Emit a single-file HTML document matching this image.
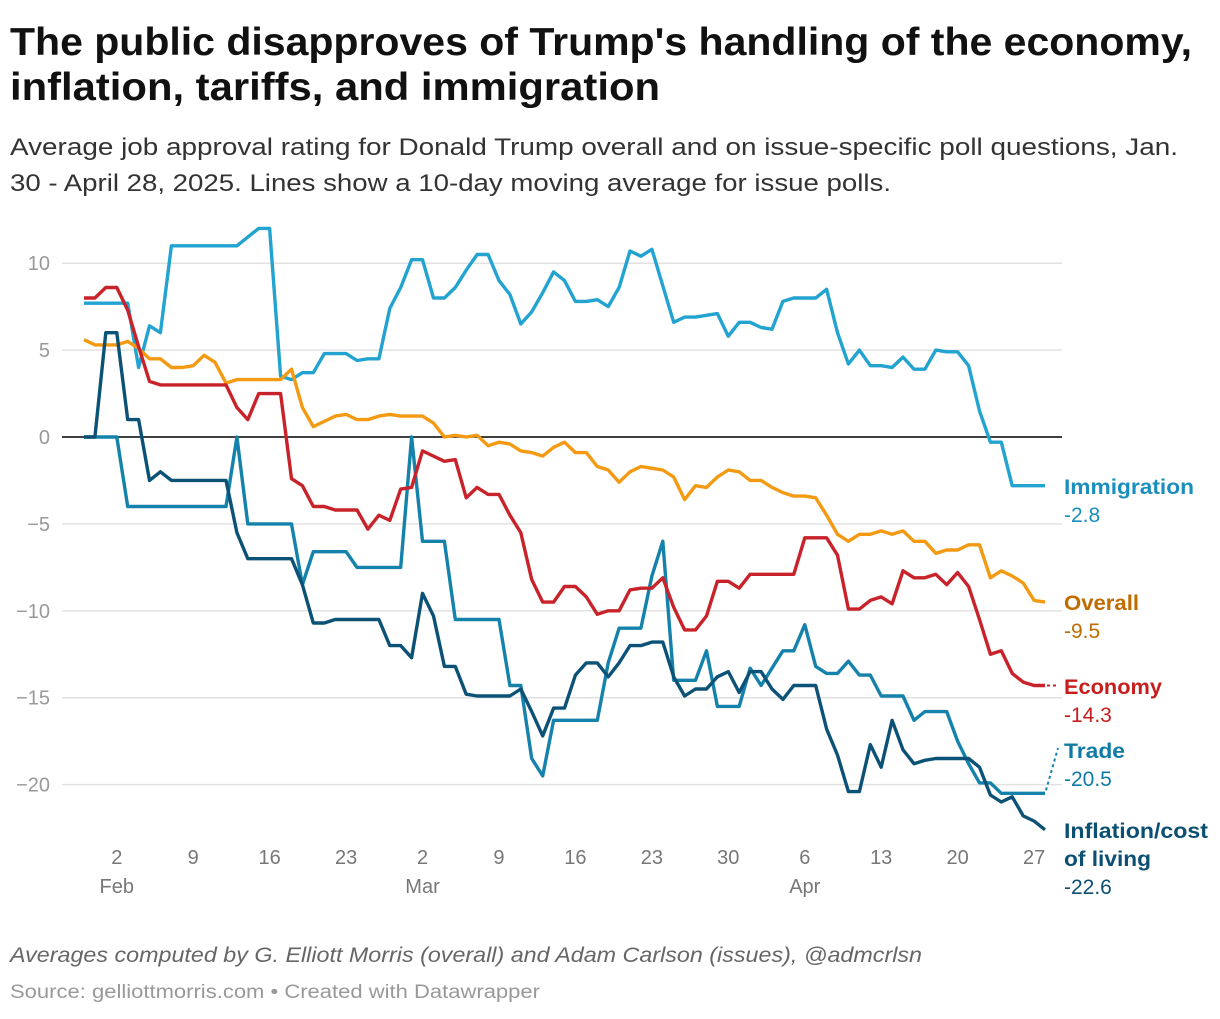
<!DOCTYPE html>
<html><head><meta charset="utf-8">
<style>
body{margin:0;background:#fff;width:1220px;height:1014px;overflow:hidden;font-family:"Liberation Sans",sans-serif;}
svg text{font-family:"Liberation Sans",sans-serif;}
</style></head>
<body>
<svg id="chart" width="1220" height="1014" xmlns="http://www.w3.org/2000/svg">
<text x="10" y="55" font-size="39" font-weight="bold" fill="#111" textLength="1182" lengthAdjust="spacingAndGlyphs">The public disapproves of Trump's handling of the economy,</text>
<text x="10" y="100" font-size="39" font-weight="bold" fill="#111" textLength="650" lengthAdjust="spacingAndGlyphs">inflation, tariffs, and immigration</text>
<text x="10" y="155" font-size="24" fill="#333" textLength="1168" lengthAdjust="spacingAndGlyphs">Average job approval rating for Donald Trump overall and on issue-specific poll questions, Jan.</text>
<text x="10" y="191" font-size="24" fill="#333" textLength="881" lengthAdjust="spacingAndGlyphs">30 - April 28, 2025. Lines show a 10-day moving average for issue polls.</text>
<g id="grid"></g>
<g id="yticks"></g>
<g id="xticks"></g>
<g id="lines"></g>
<g id="labels"></g>
<text x="10" y="962" font-size="21" font-style="italic" fill="#666" textLength="912" lengthAdjust="spacingAndGlyphs">Averages computed by G. Elliott Morris (overall) and Adam Carlson (issues), @admcrlsn</text>
<text x="10" y="998" font-size="19" fill="#999" textLength="530" lengthAdjust="spacingAndGlyphs">Source: gelliottmorris.com • Created with Datawrapper</text>
</svg>
<script>
const yTicks=[10,5,0,-5,-10,-15,-20];
const xTickDays=[3,10,17,24,31,38,45,52,59,66,73,80,87];
const xTickLabels=["2","9","16","23","2","9","16","23","30","6","13","20","27"];
const monthDays=[3,31,66];
const monthLabels=["Feb","Mar","Apr"];
const immigration=[7.7,7.7,7.7,7.7,7.7,4.0,6.4,6.0,11,11,
11,11,11,11,11,11.5,12,12,3.5,3.3,
3.7,3.7,4.8,4.8,4.8,4.4,4.5,4.5,7.4,8.6,
10.2,10.2,8.0,8.0,8.6,9.6,10.5,10.5,9.0,8.2,
6.5,7.2,8.3,9.5,9.0,7.8,7.8,7.9,7.5,8.6,
10.7,10.4,10.8,8.7,6.6,6.9,6.9,7.0,7.1,5.8,
6.6,6.6,6.3,6.2,7.8,8.0,8.0,8.0,8.5,6.0,
4.2,5.0,4.1,4.1,4.0,4.6,3.9,3.9,5.0,4.9,
4.9,4.1,1.5,-0.3,-0.3,-2.8,-2.8,-2.8,-2.8];
const overall=[5.6,5.3,5.3,5.3,5.5,5.1,4.5,4.5,4.0,4.0,
4.1,4.7,4.3,3.1,3.3,3.3,3.3,3.3,3.3,3.9,
1.7,0.6,0.9,1.2,1.3,1.0,1.0,1.2,1.3,1.2,
1.2,1.2,0.8,0.0,0.1,0.0,0.1,-0.5,-0.3,-0.4,
-0.8,-0.9,-1.1,-0.6,-0.3,-0.9,-0.9,-1.7,-1.9,-2.6,
-2.0,-1.7,-1.8,-1.9,-2.3,-3.6,-2.8,-2.9,-2.3,-1.9,
-2.0,-2.5,-2.5,-2.9,-3.2,-3.4,-3.4,-3.5,-4.5,-5.6,
-6.0,-5.6,-5.6,-5.4,-5.6,-5.4,-6.0,-6.0,-6.7,-6.5,
-6.5,-6.2,-6.2,-8.1,-7.7,-8.0,-8.4,-9.4,-9.5];
const economy=[8.0,8.0,8.6,8.6,7.3,5.2,3.2,3.0,3.0,3.0,
3.0,3.0,3.0,3.0,1.7,1.0,2.5,2.5,2.5,-2.4,
-2.8,-4.0,-4.0,-4.2,-4.2,-4.2,-5.3,-4.5,-4.8,-3.0,
-2.9,-0.8,-1.1,-1.4,-1.3,-3.5,-2.9,-3.3,-3.3,-4.5,
-5.5,-8.2,-9.5,-9.5,-8.6,-8.6,-9.2,-10.2,-10.0,-10.0,
-8.8,-8.7,-8.7,-8.1,-9.8,-11.1,-11.1,-10.3,-8.3,-8.3,
-8.7,-7.9,-7.9,-7.9,-7.9,-7.9,-5.8,-5.8,-5.8,-6.8,
-9.9,-9.9,-9.4,-9.2,-9.6,-7.7,-8.1,-8.1,-7.9,-8.5,
-7.8,-8.6,-10.5,-12.5,-12.3,-13.6,-14.1,-14.3,-14.3];
const trade=[0,0,0,0,-4,-4,-4,-4,-4,-4,
-4,-4,-4,-4,0,-5,-5,-5,-5,-5,
-8.5,-6.6,-6.6,-6.6,-6.6,-7.5,-7.5,-7.5,-7.5,-7.5,
0,-6,-6,-6,-10.5,-10.5,-10.5,-10.5,-10.5,-14.3,
-14.3,-18.5,-19.5,-16.3,-16.3,-16.3,-16.3,-16.3,-13.0,-11.0,
-11,-11,-8,-6,-14,-14,-14,-12.3,-15.5,-15.5,
-15.5,-13.3,-14.3,-13.3,-12.3,-12.3,-10.8,-13.2,-13.6,-13.6,
-12.9,-13.7,-13.7,-14.9,-14.9,-14.9,-16.3,-15.8,-15.8,-15.8,
-17.5,-18.8,-19.9,-19.9,-20.5,-20.5,-20.5,-20.5,-20.5];
const inflation=[0,0,6,6,1,1,-2.5,-2,-2.5,-2.5,
-2.5,-2.5,-2.5,-2.5,-5.5,-7,-7,-7,-7,-7,
-8.5,-10.7,-10.7,-10.5,-10.5,-10.5,-10.5,-10.5,-12,-12,
-12.7,-9,-10.3,-13.2,-13.2,-14.8,-14.9,-14.9,-14.9,-14.9,
-14.5,-15.8,-17.2,-15.6,-15.6,-13.7,-13,-13,-13.8,-13,
-12,-12,-11.8,-11.8,-13.8,-14.9,-14.5,-14.5,-13.8,-13.5,
-14.7,-13.5,-13.5,-14.5,-15.1,-14.3,-14.3,-14.3,-16.8,-18.3,
-20.4,-20.4,-17.7,-19,-16.3,-18,-18.8,-18.6,-18.5,-18.5,
-18.5,-18.5,-19,-20.6,-21,-20.7,-21.8,-22.1,-22.6];

const NS="http://www.w3.org/2000/svg";
const X=d=>84+d*(1045-84)/88;
const Y=v=>437-v*17.38;
function mk(tag,attrs,parent){const e=document.createElementNS(NS,tag);for(const k in attrs)e.setAttribute(k,attrs[k]);document.getElementById(parent).appendChild(e);return e;}

yTicks.forEach(t=>{
  const l=mk('line',{x1:62,x2:1062,y1:Y(t),y2:Y(t),stroke:t===0?'#000':'#e2e2e2','stroke-width':1.5},'grid');
  
  
  const tx=mk('text',{x:50,y:Y(t)+7,'text-anchor':'end','font-size':20,fill:'#999'},'yticks');
  tx.textContent=t<0?'\u2212'+Math.abs(t):String(t);
  
  
});
xTickDays.forEach((d,i)=>{
  const tx=mk('text',{x:X(d),y:864,'text-anchor':'middle','font-size':20,fill:'#777'},'xticks');
  tx.textContent=xTickLabels[i];
  
  
});
monthDays.forEach((d,i)=>{
  const tx=mk('text',{x:X(d),y:893,'text-anchor':'middle','font-size':20,fill:'#777'},'xticks');
  tx.textContent=monthLabels[i];
  
  
});
const series=[
  ['immigration-line',immigration,'#22a3d0'],
  ['overall-line',overall,'#f39a12'],
  ['trade-line',trade,'#1582ab'],
  ['inflation-line',inflation,'#0c5277'],
  ['economy-line',economy,'#c8232a']
];
series.forEach(s=>{
  const p=mk('path',{d:s[1].map((v,i)=>(i?'L':'M')+X(i).toFixed(1)+' '+Y(v).toFixed(1)).join(''),fill:'none',stroke:s[2],'stroke-width':3.4,'stroke-linejoin':'round'},'lines');
  
  
});
const c1=mk('line',{x1:1047,y1:Y(economy[88]),x2:1058,y2:Y(economy[88]),stroke:'#c8232a','stroke-width':2,'stroke-dasharray':'3 3'},'lines');


const c2=mk('line',{x1:1046,y1:Y(trade[88])-3,x2:1058,y2:748,stroke:'#1582ab','stroke-width':2,'stroke-dasharray':'3 3'},'lines');


const labs=[
  ['immigration-label',[['Immigration',130]],'-2.8',494,'#1a8ebd'],
  ['overall-label',[['Overall',75]],'-9.5',610,'#c06c00'],
  ['economy-label',[['Economy',98]],'-14.3',694,'#c71e1d'],
  ['trade-label',[['Trade',61]],'-20.5',758,'#107ba4'],
  ['inflation-label',[['Inflation/cost',144],['of living',87]],'-22.6',838,'#0b4f73']
];
labs.forEach(l=>{
  let y=l[3];
  l[1].forEach(line=>{
    const t=mk('text',{x:1064,y:y,'font-size':21,'font-weight':'bold',fill:l[4],textLength:line[1],lengthAdjust:'spacingAndGlyphs'},'labels');
    t.textContent=line[0];
    
    
    y+=28;
  });
  const v=mk('text',{x:1064,y:y,'font-size':21,fill:l[4]},'labels');
  v.textContent=l[2];
  
  
});
</script>
</body></html>
